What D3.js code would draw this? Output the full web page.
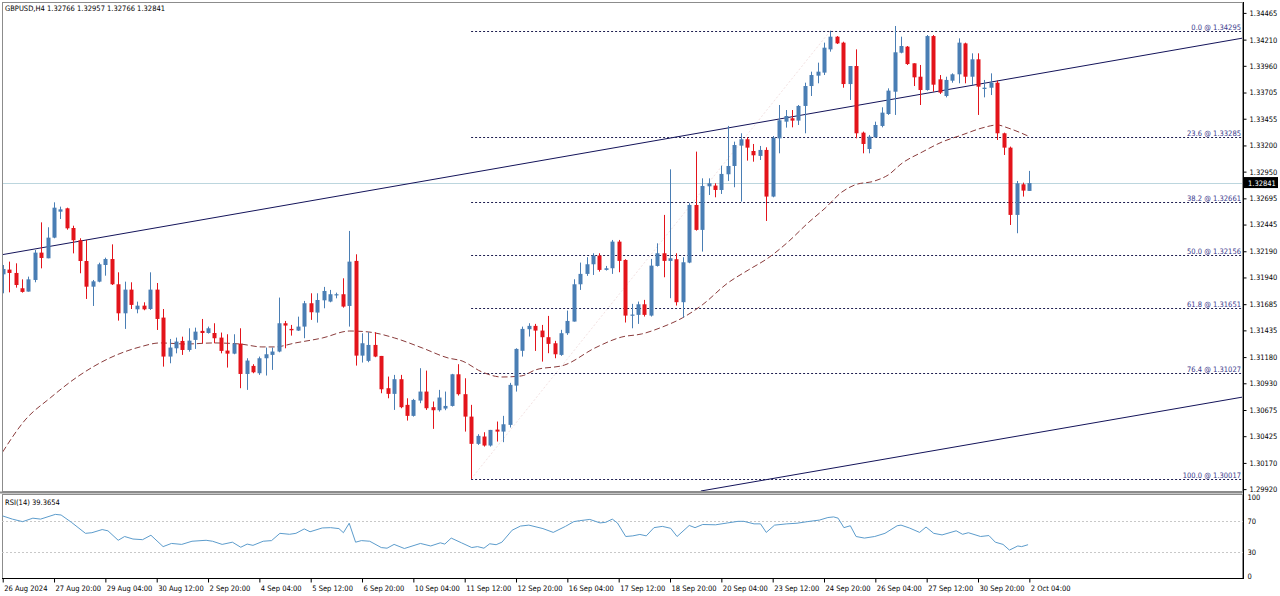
<!DOCTYPE html>
<html><head><meta charset="utf-8">
<script src="https://cdn.jsdelivr.net/npm/d3@7"></script>
<style>
html,body{margin:0;padding:0;background:#fff;}
svg{display:block;}
text{font-family:'DejaVu Sans Condensed','Liberation Sans',sans-serif;}
</style></head>
<body>
<svg id="chart" width="1280" height="596"></svg>
<script>
// ---------- DATA ----------
const symbolTitle = "GBPUSD,H4  1.32766 1.32957 1.32766 1.32841";
const opens = [1.31970,1.32015,1.31983,1.31837,1.31805,1.31916,1.32177,1.32123,1.32320,1.32568,
1.32600,1.32412,1.32295,1.32097,1.31852,1.31900,1.32059,1.32116,1.31875,1.31598,
1.31824,1.31636,1.31671,1.31639,1.31824,1.31557,1.31185,1.31264,1.31334,1.31248,
1.31344,1.31430,1.31410,1.31410,1.31366,1.31242,1.31213,1.31309,1.31019,1.31096,
1.31026,1.31169,1.31201,1.31233,1.31503,1.31449,1.31433,1.31471,1.31694,1.31605,
1.31722,1.31710,1.31773,1.31780,1.31668,1.32098,1.31194,1.31144,1.31296,1.31191,
1.30883,1.30829,1.30969,1.30724,1.30619,1.30765,1.30851,1.30702,1.30673,1.30689,
1.30714,1.31016,1.30826,1.30612,1.30352,1.30422,1.30336,1.30488,1.30469,1.30533,
1.30908,1.31240,1.31446,1.31478,1.31433,1.31370,1.31312,1.31201,1.31408,1.31519,
1.31875,1.31974,1.32066,1.32149,1.32012,1.32028,1.32282,1.32107,1.31576,1.31583,
1.31684,1.31576,1.32050,1.32171,1.32098,1.32114,1.31704,1.32082,1.32632,1.32394,
1.32810,1.32817,1.32775,1.32925,1.33004,1.33198,1.33259,1.33147,1.33100,1.33157,
1.32712,1.33268,1.33427,1.33459,1.33437,1.33577,1.33767,1.33866,1.33895,1.34117,
1.34238,1.34181,1.33786,1.33958,1.33322,1.33166,1.33278,1.33386,1.33500,1.33713,
1.34085,1.34143,1.33984,1.33856,1.33729,1.34244,1.33831,1.33672,1.33818,1.33879,
1.34174,1.33856,1.34022,1.33739,1.33751,1.33799,1.33316,1.33179,1.32537,1.32829,
1.32766];
const highs = [1.32059,1.32091,1.32075,1.31922,1.31948,1.32202,1.32466,1.32419,1.32657,1.32616,
1.32606,1.32434,1.32314,1.32298,1.31916,1.32081,1.32129,1.32256,1.31989,1.31900,
1.31894,1.31709,1.31703,1.31989,1.31887,1.31639,1.31353,1.31366,1.31375,1.31455,
1.31461,1.31544,1.31471,1.31503,1.31414,1.31398,1.31398,1.31455,1.31169,1.31112,
1.31185,1.31271,1.31271,1.31748,1.31525,1.31487,1.31566,1.31716,1.31789,1.31789,
1.31850,1.31821,1.31795,1.31932,1.32384,1.32161,1.31407,1.31417,1.31417,1.31191,
1.30994,1.31010,1.31010,1.30787,1.30781,1.31074,1.31051,1.30756,1.30867,1.30851,
1.31020,1.31112,1.30978,1.30724,1.30444,1.30463,1.30485,1.30565,1.30619,1.30934,
1.31264,1.31471,1.31503,1.31497,1.31487,1.31573,1.31335,1.31440,1.31624,1.31923,
1.32082,1.32133,1.32171,1.32171,1.32050,1.32298,1.32298,1.32114,1.31688,1.31710,
1.31726,1.32117,1.32266,1.32537,1.32972,1.32171,1.32133,1.32648,1.33141,1.32886,
1.32886,1.32839,1.33007,1.33386,1.33236,1.33316,1.33278,1.33214,1.33195,1.33182,
1.33290,1.33586,1.33538,1.33538,1.33586,1.33799,1.33904,1.33990,1.34181,1.34295,
1.34244,1.34190,1.33958,1.34117,1.33332,1.33300,1.33427,1.33564,1.33745,1.34340,
1.34238,1.34149,1.33984,1.33968,1.34254,1.34254,1.33872,1.33856,1.33888,1.34222,
1.34181,1.34079,1.34079,1.33825,1.33888,1.33818,1.33322,1.33189,1.32861,1.32845,
1.32957];
const lows = [1.31789,1.31798,1.31843,1.31795,1.31805,1.31894,1.32027,1.32123,1.32314,1.32498,
1.32396,1.32170,1.31980,1.31735,1.31668,1.31894,1.31957,1.31868,1.31528,1.31449,
1.31639,1.31598,1.31627,1.31630,1.31439,1.31089,1.31121,1.31216,1.31201,1.31232,
1.31258,1.31312,1.31404,1.31312,1.31216,1.31080,1.31207,1.30883,1.30867,1.31026,
1.31010,1.31004,1.31058,1.31226,1.31264,1.31385,1.31430,1.31360,1.31535,1.31509,
1.31646,1.31703,1.31741,1.31652,1.31471,1.31099,1.31128,1.31131,1.31179,1.30835,
1.30787,1.30676,1.30692,1.30574,1.30612,1.30740,1.30676,1.30495,1.30660,1.30673,
1.30708,1.30813,1.30469,1.30017,1.30342,1.30326,1.30326,1.30374,1.30368,1.30508,
1.30851,1.31185,1.31376,1.31239,1.31137,1.31217,1.31169,1.31192,1.31392,1.31519,
1.31821,1.31955,1.31964,1.31996,1.32006,1.31974,1.31990,1.31510,1.31455,1.31497,
1.31567,1.31567,1.32044,1.31942,1.31742,1.31672,1.31557,1.32076,1.32387,1.32187,
1.32727,1.32705,1.32737,1.32861,1.32801,1.32664,1.33055,1.33045,1.33061,1.32479,
1.32705,1.33125,1.33370,1.33373,1.33395,1.33316,1.33672,1.33793,1.33872,1.34095,
1.34168,1.33751,1.33634,1.33268,1.33125,1.33125,1.33274,1.33373,1.33491,1.33491,
1.34079,1.33968,1.33767,1.33586,1.33723,1.33713,1.33691,1.33659,1.33799,1.33793,
1.33793,1.33777,1.33491,1.33659,1.33681,1.33252,1.33109,1.32441,1.32362,1.32712,
1.32766];
const closes = [1.32021,1.31983,1.31868,1.31802,1.31922,1.32177,1.32126,1.32320,1.32606,1.32590,
1.32409,1.32295,1.32097,1.31852,1.31903,1.32066,1.32116,1.31875,1.31598,1.31824,
1.31678,1.31671,1.31636,1.31824,1.31544,1.31185,1.31271,1.31328,1.31248,1.31337,
1.31423,1.31410,1.31455,1.31360,1.31239,1.31213,1.31309,1.31019,1.31147,1.31035,
1.31169,1.31207,1.31233,1.31503,1.31481,1.31436,1.31471,1.31694,1.31608,1.31725,
1.31811,1.31780,1.31780,1.31662,1.32091,1.31194,1.31312,1.31296,1.31185,1.30873,
1.30829,1.30969,1.30702,1.30619,1.30771,1.30851,1.30692,1.30673,1.30794,1.30714,
1.31016,1.30826,1.30612,1.30352,1.30428,1.30336,1.30485,1.30469,1.30539,1.30915,
1.31258,1.31449,1.31478,1.31433,1.31370,1.31306,1.31207,1.31408,1.31525,1.31875,
1.31974,1.32066,1.32149,1.32012,1.32028,1.32282,1.32098,1.31576,1.31586,1.31684,
1.31583,1.32053,1.32171,1.32098,1.32123,1.31704,1.32085,1.32632,1.32394,1.32813,
1.32839,1.32775,1.32928,1.33004,1.33204,1.33259,1.33179,1.33106,1.33157,1.32712,
1.33274,1.33440,1.33481,1.33437,1.33577,1.33767,1.33872,1.33904,1.34133,1.34238,
1.34174,1.33786,1.33958,1.33316,1.33214,1.33284,1.33395,1.33513,1.33723,1.34089,
1.34149,1.33977,1.33850,1.33729,1.34244,1.33780,1.33704,1.33825,1.33879,1.34181,
1.33856,1.34022,1.33761,1.33751,1.33799,1.33316,1.33179,1.32537,1.32839,1.32769,
1.32841];

// Moving average (dashed) read at bar positions
const maBar = [0,3.5,7.4,11.6,16.7,21.4,24.5,28.7,32.8,37,40.4,42.4,45.6,49.8,54.1,57,61.1,65.4,69.4,71.6,74.7,77.8,80.8,83,87.6,92.3,96.5,99.6,102.8,105.9,109,113,116.2,119.3,122.4,125.5,128.2,130.8,132.8,135.9,138,140.2,143.3,146.4,149.5,152.6,155,156.7,159.8];
const maValue = [1.30275,1.30580,1.30790,1.30990,1.31172,1.31277,1.31315,1.31305,1.31315,1.31305,1.31277,1.31277,1.31315,1.31362,1.31429,1.31420,1.31362,1.31267,1.31172,1.31143,1.31038,1.30990,1.31000,1.31057,1.31105,1.31267,1.31372,1.31401,1.31467,1.31553,1.31677,1.31887,1.32011,1.32126,1.32279,1.32460,1.32603,1.32756,1.32823,1.32861,1.32918,1.33032,1.33137,1.33233,1.33300,1.33366,1.33395,1.33366,1.33290];

// RSI(14) read at bar positions
const rsiBar = [0,1.5,3.1,4.7,5.9,8.2,9.1,10.7,12.9,13.9,15.5,16.4,18,19,20.3,21.8,23.1,25,26.3,27.9,29.5,31.7,32.7,34.2,35.8,37.1,38.1,39,40.6,41.9,43.2,44.7,45.7,47,47.9,49.8,51.1,52.4,53.1,54,55,55.9,57.2,59,59.9,61,62.6,65.1,66.7,68.2,68.9,69.9,71.5,73.1,74,75,75.9,76.9,77.8,79.4,80.7,82,84.2,85.8,87.7,89,89.9,91.5,93.1,94,95,95.8,97.1,98.2,99.3,100.3,101.5,102.8,104.1,105.1,107,107.9,109.1,111.1,113,114.6,115.5,117.1,118.1,119,120.3,122.2,123.8,125.4,127.3,128.6,129.5,130.2,131.1,132.1,133,134.3,135.9,137.5,139.4,140,141.3,142.9,143.9,145.1,146.4,148.6,149.6,150.5,152.4,153.7,154.7,155.9,156.9,158.2,158.8,159.8];
const rsiValue = [76,72,68.8,73.2,72,78,77.2,68,54,54.8,58.8,57.2,45.2,50,46.8,46,51.6,37.2,41.2,40,44,45.2,44,40,42.8,36.4,40.4,38.8,44,44.8,54,52.8,54,59.6,56,60.8,61.2,60,54.8,66.8,42.8,44.8,44,36,35.2,40,34.8,41.2,38,42,40.4,48,42,36,37.2,35.2,40.8,39.6,42.8,58,63.2,64.4,60,55.2,62.8,68.8,70,71.6,67.2,68,72,67.2,50,50.8,52.6,50.8,61.2,62.8,60.4,50,64,61.2,65.2,64.8,67.2,69.2,69.2,66,66,55.2,64.4,66,66.8,68.8,70.8,74,74.8,73.2,61.2,63.6,50,48,50,54,63.6,64.4,60.8,55.2,62,54,52,57.2,52.8,54.8,50,51.2,42.8,40,32.8,38,37.2,39.6];
const rsiTitle = "RSI(14) 39.3654";
const rsiLevels = [70, 30];
const rsiTicks = [100, 70, 30, 0];

// Price axis tick labels
const priceTicks = [1.34465,1.34210,1.33960,1.33705,1.33455,1.33200,1.32950,1.32695,1.32445,1.32190,1.31940,1.31685,1.31435,1.31180,1.30930,1.30675,1.30425,1.30170,1.29920];
const lastPrice = 1.32841;

// Time axis labels (every 8th bar)
const timeLabels = ["26 Aug 2024","27 Aug 20:00","29 Aug 04:00","30 Aug 12:00","2 Sep 20:00","4 Sep 04:00","5 Sep 12:00","6 Sep 20:00","10 Sep 04:00","11 Sep 12:00","12 Sep 20:00","16 Sep 04:00","17 Sep 12:00","18 Sep 20:00","20 Sep 04:00","23 Sep 12:00","24 Sep 20:00","26 Sep 04:00","27 Sep 12:00","30 Sep 20:00","2 Oct 04:00"];
const timeLabelStep = 8;

// Fibonacci retracement
const fibLevels = ["0.0","23.6","38.2","50.0","61.8","76.4","100.0"];
const fibPrices = [1.34295,1.33285,1.32661,1.32156,1.31651,1.31027,1.30017];
const fibStartBar = 73;
const fibEndBar = 129;

// Channel trend lines [bar, price]
const upperLineBars = [-0.4, 193.3];
const upperLinePrices = [1.32154, 1.34225];
const lowerLineBars = [108.8, 193.3];
const lowerLinePrices = [1.29902, 1.30799];

// ---------- CHART ----------
const W = 1280, H = 596;
const left = 2, right = 1243;
const mainTop = 2, mainBottom = 491;
const rsiTop = 494, rsiBottom = 578;
const svg = d3.select("#chart");

const x = d3.scaleLinear().domain([-0.11, 193.3]).range([left, right]);
const y = d3.scaleLinear().domain([1.29902, 1.34569]).range([mainBottom, mainTop]);
const yr = d3.scaleLinear().domain([0, 100]).range([576, 497]);

const UP = "#4a7eb4", DN = "#e3141b";
const fontSize = 7.5;

svg.append("defs").append("clipPath").attr("id","mainClip")
  .append("rect").attr("x",left).attr("y",mainTop).attr("width",right-left).attr("height",mainBottom-mainTop);
svg.append("defs").append("clipPath").attr("id","rsiClip")
  .append("rect").attr("x",left).attr("y",rsiTop).attr("width",right-left).attr("height",rsiBottom-rsiTop);

const main = svg.append("g").attr("clip-path","url(#mainClip)");

// last price line
main.append("line").attr("x1",left).attr("x2",right)
  .attr("y1",Math.round(y(lastPrice))+0.5).attr("y2",Math.round(y(lastPrice))+0.5)
  .attr("stroke","#bcd6de").attr("stroke-width",1);

// fib diagonal
main.append("line")
  .attr("x1",x(fibStartBar)).attr("y1",y(fibPrices[6]))
  .attr("x2",x(fibEndBar)).attr("y2",y(fibPrices[0]))
  .attr("stroke","#f3e2e2").attr("stroke-dasharray","2,2").attr("stroke-width",1);

// fib levels
fibPrices.forEach((p,k)=>{
  const yy = Math.round(y(p))+0.5;
  main.append("line").attr("x1",x(fibStartBar)).attr("x2",right).attr("y1",yy).attr("y2",yy)
    .attr("stroke","#1e1e50").attr("stroke-dasharray","2,2").attr("stroke-width",1);
  main.append("text").attr("x",right-2).attr("y",yy-2).attr("text-anchor","end")
    .attr("font-size",fontSize).attr("fill","#3a3a8c")
    .text(fibLevels[k]+" @ "+p.toFixed(5));
});

// moving average
const maPts = maBar.map((b,k)=>[x(b), y(maValue[k])]);
main.append("path").attr("d", d3.line().curve(d3.curveMonotoneX)(maPts))
  .attr("fill","none").attr("stroke","#8a3b3b").attr("stroke-width",1).attr("stroke-dasharray","6,3");

// trend lines
main.append("line").attr("x1",x(upperLineBars[0])).attr("y1",y(upperLinePrices[0]))
  .attr("x2",x(upperLineBars[1])).attr("y2",y(upperLinePrices[1]))
  .attr("stroke","#14145a").attr("stroke-width",1);
main.append("line").attr("x1",x(lowerLineBars[0])).attr("y1",y(lowerLinePrices[0]))
  .attr("x2",x(lowerLineBars[1])).attr("y2",y(lowerLinePrices[1]))
  .attr("stroke","#14145a").attr("stroke-width",1);

// candles
const candles = main.append("g");
opens.forEach((o,i)=>{
  const c = closes[i], h = highs[i], l = lows[i];
  const col = c >= o ? UP : DN;
  const cx = Math.round(x(i));
  candles.append("line").attr("x1",cx+0.5).attr("x2",cx+0.5)
    .attr("y1",y(h)).attr("y2",y(l)).attr("stroke",col).attr("stroke-width",1);
  const top = y(Math.max(o,c)), bot = y(Math.min(o,c));
  candles.append("rect").attr("x",cx-1.5).attr("width",4)
    .attr("y",top).attr("height",Math.max(1.2,bot-top)).attr("fill",col);
});

// frames
svg.append("rect").attr("x",left+0.5).attr("y",mainTop+0.5).attr("width",right-left-1).attr("height",mainBottom-mainTop)
  .attr("fill","none").attr("stroke","#8c8c8c");
svg.append("line").attr("x1",0).attr("x2",right).attr("y1",492.5).attr("y2",492.5).attr("stroke","#8c8c8c").attr("stroke-width",2);
svg.append("rect").attr("x",left+0.5).attr("y",rsiTop+0.5).attr("width",right-left-1).attr("height",rsiBottom-rsiTop)
  .attr("fill","none").attr("stroke","#8c8c8c");
svg.append("line").attr("x1",right+0.5).attr("x2",right+0.5).attr("y1",mainTop).attr("y2",rsiBottom+1).attr("stroke","#000");
svg.append("line").attr("x1",left).attr("x2",right).attr("y1",rsiBottom+0.5).attr("y2",rsiBottom+0.5).attr("stroke","#000");

// header
svg.append("text").attr("x",5).attr("y",11).attr("font-size",fontSize).attr("fill","#000").text(symbolTitle);

// price axis
const pAxis = svg.append("g").attr("transform",`translate(${right+0.5},0)`)
  .call(d3.axisRight(y).tickValues(priceTicks).tickFormat(d3.format(".5f")).tickSize(3).tickPadding(3));
pAxis.select(".domain").remove();
pAxis.selectAll("text").attr("font-size",fontSize).attr("fill","#000").attr("font-family","'DejaVu Sans Condensed','Liberation Sans',sans-serif");
pAxis.selectAll("line").attr("stroke","#000");

// last price label
const lpY = y(lastPrice);
svg.append("rect").attr("x",right+1).attr("y",lpY-6).attr("width",W-right-3).attr("height",11).attr("fill","#000");
svg.append("text").attr("x",right+5).attr("y",lpY).attr("dy","0.35em").attr("font-size",fontSize).attr("fill","#fff").text(lastPrice.toFixed(5));

// RSI panel
const rsiG = svg.append("g").attr("clip-path","url(#rsiClip)");
rsiLevels.forEach(v=>{
  const yy = Math.round(yr(v))+0.5;
  rsiG.append("line").attr("x1",left).attr("x2",right).attr("y1",yy).attr("y2",yy)
    .attr("stroke","#c8c8c8").attr("stroke-dasharray","2,2");
});
const rsiPts = rsiBar.map((b,k)=>[x(b), yr(rsiValue[k])]);
rsiG.append("path").attr("d", d3.line()(rsiPts)).attr("fill","none").attr("stroke","#5c9ccc").attr("stroke-width",1);
svg.append("text").attr("x",5).attr("y",505).attr("font-size",fontSize).attr("fill","#000").text(rsiTitle);
const rAxis = svg.append("g").attr("transform",`translate(${right+0.5},0)`)
  .call(d3.axisRight(yr).tickValues(rsiTicks).tickFormat(d3.format("d")).tickSize(0).tickPadding(4));
rAxis.select(".domain").remove();
rAxis.selectAll("text").attr("font-size",fontSize).attr("fill","#000").attr("font-family","'DejaVu Sans Condensed','Liberation Sans',sans-serif");

// time axis
const tIdx = timeLabels.map((_,k)=>k*timeLabelStep);
const tAxis = svg.append("g").attr("transform",`translate(0,${rsiBottom+0.5})`)
  .call(d3.axisBottom(x).tickValues(tIdx).tickFormat((d,k)=>timeLabels[k]).tickSize(4).tickPadding(3));
tAxis.select(".domain").remove();
tAxis.selectAll("line").attr("stroke","#000");
tAxis.selectAll("text").attr("font-size",fontSize).attr("fill","#000").attr("text-anchor","start").attr("dx",1)
  .attr("font-family","'DejaVu Sans Condensed','Liberation Sans',sans-serif");
</script>
</body></html>
